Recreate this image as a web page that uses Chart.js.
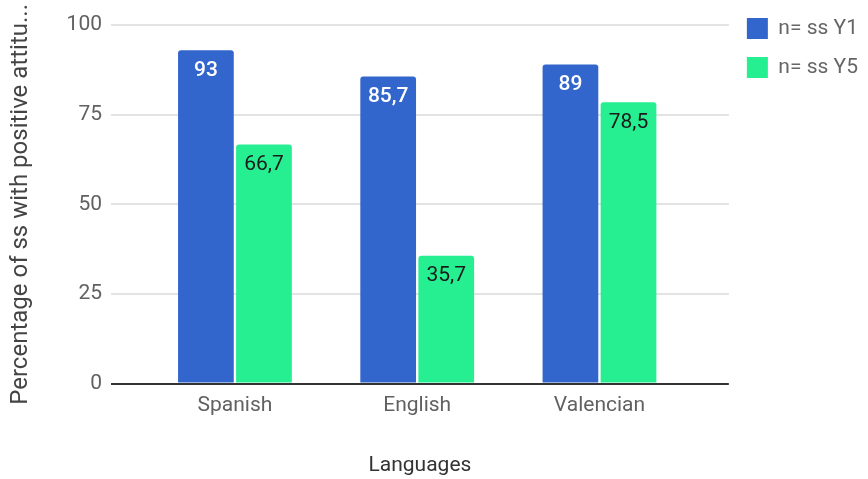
<!DOCTYPE html>
<html>
<head>
<meta charset="utf-8">
<script src="https://cdn.jsdelivr.net/npm/chart.js@4.4.1/dist/chart.umd.min.js"></script>
<style>
  html, body { margin: 0; padding: 0; background: #fff; }
</style>
</head>
<body>
<canvas id="chart" width="868" height="479"></canvas>
<script>
// chart data
const languages = ['Spanish', 'English', 'Valencian'];
const seriesNames = ['n= ss Y1', 'n= ss Y5'];
const y1Values = [93, 85.7, 89];
const y5Values = [66.7, 35.7, 78.5];
const yTicks = [0, 25, 50, 75, 100];

const seriesColors = ['#3366cc', '#26ef91'];
const labelColors = ['#ffffff', '#1a1a1a'];
const labelWeights = ['500', '400'];

Chart.defaults.font.family = 'Roboto';
Chart.defaults.font.size = 21;

// value labels drawn inside the top of every bar
const valueLabels = {
    id: 'valueLabels',
    afterDatasetsDraw(chart) {
        const ctx = chart.ctx;
        ctx.save();
        ctx.textAlign = 'center';
        ctx.textBaseline = 'middle';
        chart.data.datasets.forEach((ds, i) => {
            ctx.font = labelWeights[i] + ' 21px Roboto';
            ctx.fillStyle = labelColors[i];
            chart.getDatasetMeta(i).data.forEach((bar, j) => {
                ctx.fillText(String(ds.data[j].y).replace('.', ','), bar.x, bar.y + 20);
            });
        });
        ctx.restore();
    }
};

const toPoints = values => values.map((v, i) => ({ x: i, y: v }));

new Chart(document.getElementById('chart'), {
    type: 'bar',
    data: {
        datasets: [
            {
                label: seriesNames[0],
                data: toPoints(y1Values),
                backgroundColor: seriesColors[0],
                borderRadius: 3,
                barPercentage: 0.96,
                categoryPercentage: 0.637
            },
            {
                label: seriesNames[1],
                data: toPoints(y5Values),
                backgroundColor: seriesColors[1],
                borderRadius: 3,
                barPercentage: 0.96,
                categoryPercentage: 0.637
            }
        ]
    },
    options: {
        responsive: false,
        animation: false,
        devicePixelRatio: 1,
        layout: { padding: { top: 0, right: 0, bottom: 1, left: 0 } },
        plugins: {
            title: {
                display: true,
                text: '',
                font: { size: 1 },
                padding: { top: 24, bottom: 0 }
            },
            legend: {
                position: 'right',
                align: 'start',
                labels: {
                    boxWidth: 21,
                    boxHeight: 21,
                    padding: 18,
                    color: '#666666',
                    font: { size: 21 }
                }
            },
            tooltip: { enabled: false }
        },
        scales: {
            x: {
                type: 'linear',
                min: -0.68,
                max: 2.71,
                offset: false,
                grid: { display: false, drawTicks: false, offset: false },
                border: { display: false },
                ticks: {
                    stepSize: 1,
                    includeBounds: false,
                    maxRotation: 0,
                    padding: 10,
                    color: '#616161',
                    callback: value => languages[value] ?? ''
                },
                title: {
                    display: true,
                    text: 'Languages',
                    color: '#333333',
                    padding: { top: 24, bottom: 0 }
                }
            },
            y: {
                min: 0,
                max: 100,
                afterBuildTicks: scale => {
                    scale.ticks = yTicks.map(v => ({ value: v }));
                },
                afterFit: scale => {
                    scale.width = 111;
                },
                grid: {
                    drawTicks: false,
                    color: c => c.tick.value === 0 ? '#333333' : '#e3e3e3',
                    lineWidth: 2
                },
                border: { display: false },
                ticks: {
                    padding: 9,
                    color: '#616161'
                },
                title: {
                    display: true,
                    text: 'Percentage of ss with positive attitu...',
                    color: '#444444',
                    font: { size: 24 },
                    padding: { top: 7, bottom: 0 }
                }
            }
        }
    },
    plugins: [valueLabels]
});
</script>
</body>
</html>
